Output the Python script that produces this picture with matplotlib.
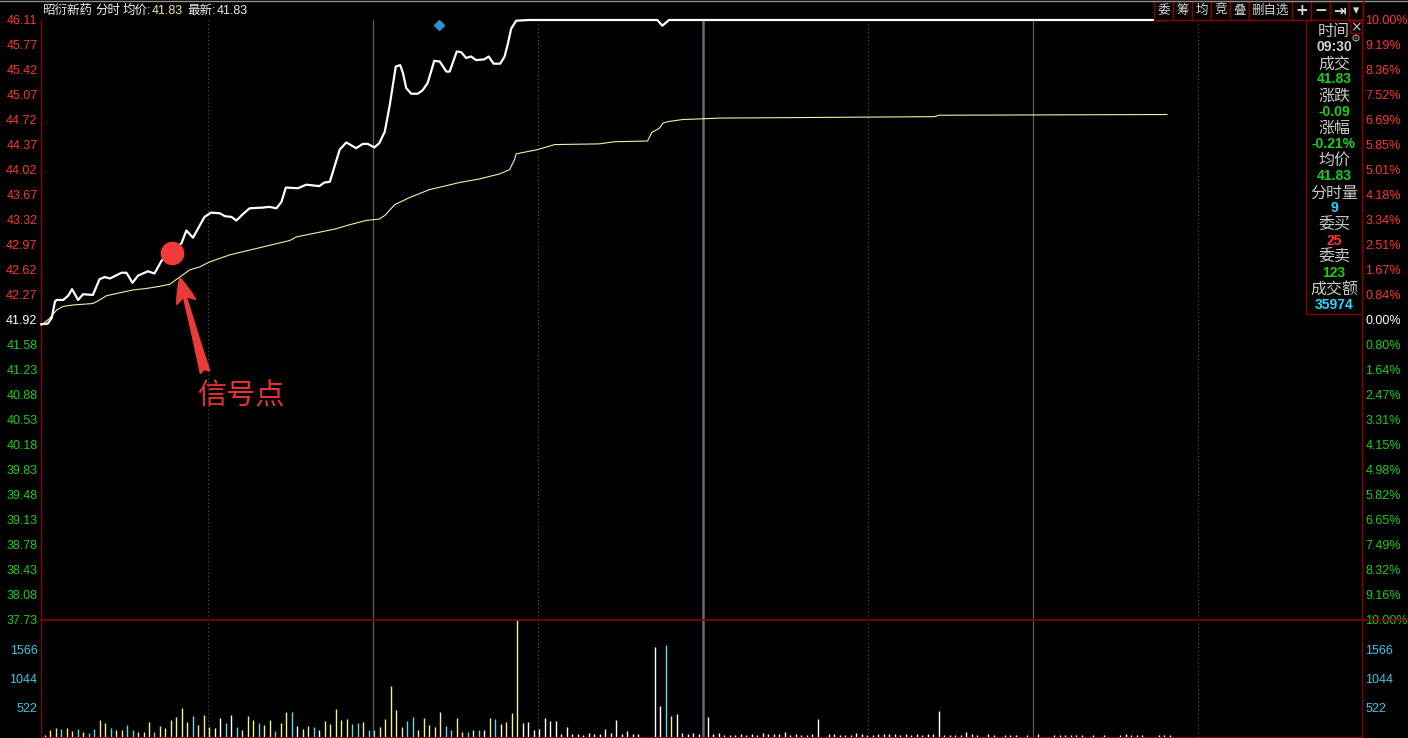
import numpy as np
import matplotlib.pyplot as plt
from matplotlib.patches import Rectangle
from matplotlib.lines import Line2D

plt.rcParams['font.family'] = ['Liberation Sans', 'Noto Sans CJK SC', 'DejaVu Sans']

W, H = 1408, 738  # canvas in pixels

# ---- data ----
prev_close = 41.92

# price line key points (minute from 09:30, price)
price_min = [-0.4, 0.8, 1.5, 2.1, 2.4, 3.6, 4.5, 5.2, 6.3, 7.2, 9.0, 10.2, 11.1, 12.1, 14.2, 15.1,
             16.2, 17.2, 18.4, 19.0, 20.2, 21.5, 25.1, 26.0, 27.2, 29.3, 30.5, 32.1, 33.0, 34.2,
             35.1, 36.3, 37.5, 39.9, 41.1, 42.4, 43.3, 44.1, 46.3, 47.8, 50.2, 51.1, 52.1, 53.9,
             55.1, 56.9, 58.1, 59.0, 60.2, 61.1, 62.1, 63.0, 64.1, 64.9, 65.4, 66.0, 66.9, 68.1,
             69.0, 69.9, 71.1, 72.1, 73.3, 73.9, 75.2, 76.0, 76.9, 77.8, 78.7, 80.2, 81.0, 81.9,
             83.1, 83.9, 84.5, 85.1, 86.0, 88.4, 111.7, 112.6, 113.8, 204.2]
price_val = [41.86, 41.87, 41.95, 42.18, 42.20, 42.20, 42.26, 42.35, 42.20, 42.28, 42.27, 42.49,
             42.52, 42.50, 42.58, 42.58, 42.44, 42.54, 42.58, 42.60, 42.57, 42.75, 42.99, 43.17,
             43.07, 43.36, 43.42, 43.41, 43.37, 43.36, 43.31, 43.40, 43.48, 43.49, 43.50, 43.48,
             43.57, 43.77, 43.76, 43.81, 43.79, 43.84, 43.85, 44.30, 44.40, 44.32, 44.38, 44.38,
             44.33, 44.39, 44.55, 44.92, 45.46, 45.48, 45.37, 45.16, 45.08, 45.08, 45.13, 45.23,
             45.54, 45.53, 45.39, 45.39, 45.67, 45.66, 45.58, 45.60, 45.55, 45.56, 45.60, 45.50,
             45.50, 45.60, 45.78, 45.99, 46.10, 46.11, 46.11, 46.03, 46.11, 46.11]

# average price line key points
avg_min = [-0.4, 1.1, 2.4, 3.6, 5.4, 7.2, 9.0, 10.2, 11.5, 13.9, 16.3, 18.7, 21.1, 23.0, 24.8,
           26.6, 28.4, 30.2, 33.9, 39.9, 44.8, 46.0, 53.0, 55.7, 58.7, 61.1, 62.1, 63.9, 66.6,
           70.2, 75.7, 79.3, 83.0, 84.8, 85.7, 86.0, 89.9, 93.0, 101.1, 103.9, 109.9, 110.7,
           112.1, 112.7, 113.6, 116.3, 119.9, 123.0, 162.1, 163.0, 204.4]
avg_val = [41.85, 41.94, 42.06, 42.11, 42.13, 42.14, 42.15, 42.20, 42.26, 42.30, 42.34, 42.36,
           42.39, 42.42, 42.52, 42.62, 42.66, 42.73, 42.83, 42.94, 43.03, 43.08, 43.19, 43.25,
           43.31, 43.33, 43.38, 43.53, 43.63, 43.74, 43.84, 43.89, 43.96, 44.02, 44.16, 44.24,
           44.30, 44.37, 44.38, 44.41, 44.42, 44.54, 44.60, 44.67, 44.69, 44.72, 44.73, 44.74,
           44.76, 44.78, 44.79]

# per-minute volume, morning and afternoon sessions
vol_am = [30, 120, 156, 138, 156, 108, 138, 84, 66, 138, 300, 246, 156, 120, 120, 210, 120, 84,
          84, 264, 84, 192, 156, 300, 354, 516, 264, 372, 210, 390, 174, 156, 336, 246, 390, 174,
          120, 372, 300, 246, 210, 300, 102, 246, 444, 444, 192, 138, 192, 174, 120, 282, 228,
          498, 300, 318, 228, 246, 264, 120, 120, 174, 318, 912, 480, 174, 282, 354, 120, 336,
          210, 174, 444, 192, 120, 336, 84, 84, 120, 120, 120, 336, 318, 228, 264, 426, 2100,
          246, 264, 120, 138, 336, 282, 282, 48, 174, 48, 48, 30, 66, 48, 48, 138, 66, 300, 48,
          102, 48, 48, 0, 0, 1614, 552, 1650, 372, 408, 66, 48, 66, 48]
vol_am_col = ("wyycyycyccyycyyccyyycyyyyyycyyywwcwcyyycyycyycwyycwyyyyyccyccyyyyyccyyyyyccyycycwycwyyy"
              "wwwwwwwwwwwwwwwwwwwwwwwwwwcywwwww")
vol_pm = [354, 48, 66, 30, 30, 30, 48, 30, 48, 30, 66, 48, 48, 48, 84, 30, 48, 30, 30, 48, 318, 0,
          48, 48, 30, 30, 30, 66, 48, 30, 30, 48, 48, 48, 48, 30, 48, 30, 48, 30, 48, 48, 462, 30,
          30, 30, 30, 84, 48, 30, 0, 48, 30, 0, 30, 30, 30, 0, 30, 0, 48, 0, 0, 30, 30, 30, 30, 30,
          30, 0, 30, 0, 30, 0, 0, 30, 48, 30, 30, 30, 0, 0, 30, 30, 30]

price_ticks = [46.11, 45.77, 45.42, 45.07, 44.72, 44.37, 44.02, 43.67, 43.32, 42.97, 42.62, 42.27,
               41.92, 41.58, 41.23, 40.88, 40.53, 40.18, 39.83, 39.48, 39.13, 38.78, 38.43, 38.08,
               37.73]
pct_labels = ["10.00%", "9.19%", "8.36%", "7.52%", "6.69%", "5.85%", "5.01%", "4.18%", "3.34%",
              "2.51%", "1.67%", "0.84%", "0.00%", "0.80%", "1.64%", "2.47%", "3.31%", "4.15%",
              "4.98%", "5.82%", "6.65%", "7.49%", "8.32%", "9.16%", "10.00%"]
vol_ticks = [522, 1044, 1566]

signal_min, signal_price = 23.3, 42.86
marker_min, marker_price = 71.9, 46.04

panel_labels = ["时间", "成交", "涨跌", "涨幅", "均价", "分时量", "委买", "委卖", "成交额"]
panel_values = ["09:30", "41.83", "-0.09", "-0.21%", "41.83", "9", "25", "123", "35974"]
toolbar = ["委", "筹", "均", "竞", "叠", "删自选", "+", "−", "⇥", "▾"]

RED = "#ff3434"
GREEN = "#16d016"
CYAN = "#3cc8ea"
FRAME = "#8a0000"
VOLC = {"w": "#ffffff", "y": "#f2f28a", "c": "#55e0ea"}


def fx(x):
    return x / W


def fy(y):
    return 1 - y / H


fig = plt.figure(figsize=(W / 100, H / 100), dpi=100, facecolor="black")
XLIM = (-0.45, 239.9)

# ---- price panel ----
ax = fig.add_axes([fx(41), fy(620), (1362 - 41) / W, 600 / H], facecolor="black")
ax.set_xlim(*XLIM)
ax.set_ylim(37.73, 46.11)
for m in [30, 90, 150, 210]:
    ax.axvline(m, color="#5a5a5a", lw=0.8, ls=(0, (1, 2.5)))
for m in [60, 180]:
    ax.axvline(m, color="#5c5c66", lw=0.9)
ax.axvline(120, color="#6a6a72", lw=1.8)

ax.plot(avg_min, avg_val, color="#f4f0a8", lw=0.8, zorder=3)
ax.plot(price_min, price_val, color="white", lw=1.6, zorder=4, clip_on=False,
        solid_joinstyle="round")
ax.plot(signal_min, signal_price, "o", color="#f03a3c", ms=16, zorder=5)
ax.plot(marker_min, marker_price, "D", color="#2a92cc", ms=5.5, zorder=5)

ax.annotate("", xy=(24.8, 42.51), xytext=(29.4, 41.19),
            arrowprops=dict(arrowstyle="fancy,head_width=0.7,head_length=0.9,tail_width=0.35",
                            color="#ec3a3a", mutation_scale=20, shrinkA=0, shrinkB=0), zorder=6)
ax.text(28.0, 40.85, "信号点", color="#e83232", fontsize=21, ha="left", va="center",
        family=["Noto Sans CJK SC"])

ax.set_yticks(price_ticks)
ax.set_yticklabels([f"{v:.2f}" for v in price_ticks])
for t, v in zip(ax.get_yticklabels(), price_ticks):
    t.set_color("white" if v == prev_close else (RED if v > prev_close else GREEN))
ax.tick_params(axis="y", length=0, pad=2.5, labelsize=9)
ax.set_xticks([])
ax.spines["top"].set_visible(False)
for s in ["left", "right", "bottom"]:
    ax.spines[s].set_color(FRAME)
    ax.spines[s].set_linewidth(1)

axr = ax.twinx()
axr.set_ylim(ax.get_ylim())
axr.set_yticks(price_ticks)
axr.set_yticklabels(pct_labels)
for t, v in zip(axr.get_yticklabels(), price_ticks):
    t.set_color("white" if v == prev_close else (RED if v > prev_close else GREEN))
axr.tick_params(axis="y", length=0, pad=2.5, labelsize=9)
for s in axr.spines.values():
    s.set_visible(False)

# ---- volume panel ----
vax = fig.add_axes([fx(41), fy(737), (1362 - 41) / W, 118 / H], facecolor="black")
vax.set_xlim(*XLIM)
vax.set_ylim(0, 2120)
for m in [30, 90, 150, 210]:
    vax.axvline(m, color="#5a5a5a", lw=0.8, ls=(0, (1, 2.5)))
for m in [60, 180]:
    vax.axvline(m, color="#5c5c66", lw=0.9)
vax.axvline(120, color="#6a6a72", lw=1.8)

am_x = np.arange(len(vol_am)) + 0.2
pm_x = np.arange(len(vol_pm)) + 120.9
vax.vlines(am_x, 0, vol_am, colors=[VOLC[c] for c in vol_am_col], lw=1.0, zorder=3)
vax.vlines(pm_x, 0, vol_pm, colors="white", lw=1.0, zorder=3)

vax.set_xticks([])
vax.set_yticks(vol_ticks)
vax.set_yticklabels([str(v) for v in vol_ticks], color=CYAN)
vax.tick_params(axis="y", length=0, pad=2.5, labelsize=9)
for s in ["left", "right", "bottom"]:
    vax.spines[s].set_color(FRAME)
vax.spines["top"].set_visible(False)
vaxr = vax.twinx()
vaxr.set_ylim(vax.get_ylim())
vaxr.set_yticks(vol_ticks)
vaxr.set_yticklabels([str(v) for v in vol_ticks], color=CYAN)
vaxr.tick_params(axis="y", length=0, pad=2.5, labelsize=9)
for s in vaxr.spines.values():
    s.set_visible(False)

# ---- frame lines ----
fig.add_artist(Line2D([0, 1], [fy(0.5), fy(0.5)], color="#909090", lw=1))
fig.add_artist(Line2D([fx(41), 1], [fy(619.5), fy(619.5)], color=FRAME, lw=1.2))
fig.add_artist(Line2D([fx(1362.5), fx(1362.5)], [fy(0), fy(20)], color=FRAME, lw=1))

# ---- header ----
hy = fy(11)
for x, s, c in [(42, "昭衍新药", "#eeeeee"), (95, "分时", "#eeeeee"), (123, "均价:", "#eeeeee"),
                (152, "41.83", "#f2e890"), (187, "最新:", "#eeeeee"), (217, "41.83", "#eeeeee")]:
    fig.text(fx(x), hy, s, color=c, fontsize=9, va="center")

# ---- toolbar ----
edges = [1154, 1173, 1192, 1211, 1230, 1249, 1292, 1311, 1330, 1349, 1362.5]
for i, lab in enumerate(toolbar):
    x0, x1 = edges[i], edges[i + 1]
    fig.add_artist(Rectangle((fx(x0), fy(20)), (x1 - x0) / W, 19.5 / H, transform=fig.transFigure,
                             facecolor="black", edgecolor=FRAME, lw=1))
    icon = lab in ["+", "−", "⇥"]
    fig.text(fx((x0 + x1) / 2), fy(10.5), lab, color="#d8d8d8", fontsize=11 if icon else 9,
             ha="center", va="center", fontweight="bold" if icon else "normal",
             family=["DejaVu Sans"] if icon else ["Noto Sans CJK SC", "DejaVu Sans"])

# ---- info panel ----
fig.add_artist(Rectangle((fx(1306), fy(314.5)), 56 / W, 294 / H, transform=fig.transFigure,
                         facecolor="black", edgecolor=FRAME, lw=1, zorder=5))
value_colors = ["#d0d0d0", GREEN, GREEN, GREEN, GREEN, "#2ad8ff", RED, GREEN, "#2ad8ff"]
for i, (lab, val) in enumerate(zip(panel_labels, panel_values)):
    ly = 31.5 + i * 32.3
    fig.text(fx(1334), fy(ly), lab, color="#c8c8c8", fontsize=11.5, ha="center", va="center",
             family=["Noto Sans CJK SC"], zorder=6)
    fig.text(fx(1334), fy(ly + 15.5), val, color=value_colors[i], fontsize=10, ha="center",
             va="center", fontweight="bold", zorder=6)
fig.add_artist(Rectangle((fx(1350), fy(33)), 12 / W, 12 / H, transform=fig.transFigure,
                         facecolor="black", edgecolor=FRAME, lw=1, zorder=6))
fig.text(fx(1356), fy(27), "×", color="#c8c8c8", fontsize=10, ha="center", va="center",
         family=["DejaVu Sans"], zorder=7)
fig.text(fx(1356), fy(39.5), "⚙", color="#a0a0a0", fontsize=8, ha="center", va="center",
         family=["DejaVu Sans"], zorder=7)

fig.savefig("out.png", dpi=100, facecolor="black")
